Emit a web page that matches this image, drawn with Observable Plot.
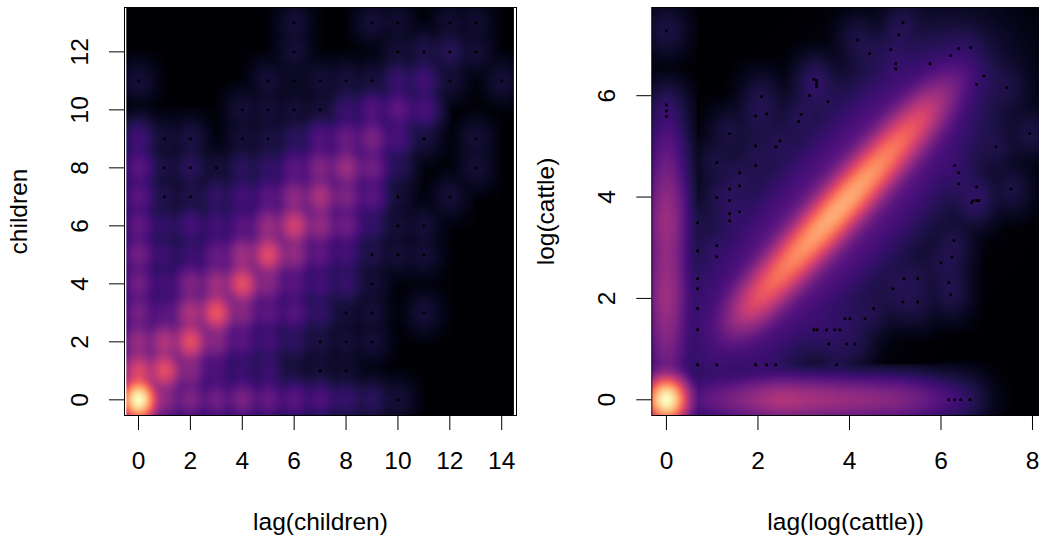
<!DOCTYPE html>
<html><head><meta charset="utf-8">
<script src="https://cdn.jsdelivr.net/npm/d3@7"></script>
<script src="https://cdn.jsdelivr.net/npm/@observablehq/plot@0.6"></script>
<style>
html,body{margin:0;padding:0;background:#fff;overflow:hidden}
#wrap{position:relative;width:1039px;height:542px}
#wrap svg{position:absolute;top:0}
</style></head><body><div id="wrap"></div>
<script>
// Left panel: colour level (0-100) at each lattice cell; rows children = 0..13, columns lag = 0..14
const childrenLevels = [
 [100,40,36,33,35,30,27,24,19,16,10,0,0,0,0],
 [58,61,38,24,20,20,11,10,9,0,0,0,0,0,0],
 [42,48,61,38,27,22,17,12,10,10,0,0,0,0,0],
 [34,27,47,63,38,28,26,18,10,10,0,10,0,0,0],
 [33,22,36,44,61,38,27,22,19,10,0,0,0,0,0],
 [33,20,20,30,44,60,41,28,22,13,10,10,0,0,0],
 [29,18,22,22,27,42,56,41,32,18,10,10,0,0,0],
 [27,13,13,18,22,27,40,47,36,27,10,0,10,0,0],
 [27,12,16,10,16,18,27,37,43,33,15,0,0,10,0],
 [21,10,12,0,10,12,16,25,31,35,23,11,0,10,0],
 [0,0,0,0,10,10,10,10,19,25,28,23,0,0,0],
 [10,0,0,0,0,10,7,10,11,11,19,21,10,0,10],
 [0,0,0,0,0,0,10,0,0,0,10,13,15,10,0],
 [0,0,0,0,0,0,10,0,0,10,9,0,9,9,0]
];
const childrenDotsX = [6,9,10,12,13,6,10,11,12,13,0,5,6,7,8,9,12,14,4,5,6,7,1,2,4,5,11,13,1,2,3,13,1,2,10,12,10,11,9,10,11,9,8,9,11,7,8,9,7,8,10];
const childrenDotsY = [13,13,13,13,13,12,12,12,12,12,11,11,11,11,11,11,11,11,10,10,10,10,9,9,9,9,9,9,8,8,8,8,7,7,7,7,6,6,5,5,5,4,3,3,3,2,2,2,1,1,0];

// Right panel: sparse points
const cattleDotsX = [0,5.17,5.08,4.18,4.44,4.9,5.01,5.01,5.76,6.21,6.39,6.65,6.94,6.78,7.44,3.22,3.28,3.28,3.28,3.13,3.53,2.08,0,0,0,1.95,2.19,2.94,2.89,1.38,7.94,2.48,2.39,1.95,7.2,1.1,1.95,6.3,6.39,1.6,6.39,1.6,1.38,6.78,7.53,1.1,1.38,6.7,6.78,6.83,6.67,1.6,1.38,1.38,0.68,6.28,1.1,0.68,1.1,6.24,6,0.68,5.19,5.49,6.17,0.68,4.95,6.21,5.17,5.49,0.68,4.53,3.9,4.01,4.34,0.68,3.22,3.29,3.5,3.68,3.79,3.55,3.94,4.12,0.68,1.1,1.95,2.19,2.39,3.72,6.17,6.3,6.43,6.63];
const cattleDotsY = [7.28,7.44,7.2,7.1,6.83,6.91,6.63,6.53,6.63,6.79,6.93,6.95,6.39,6.22,6.16,6.32,6.3,6.24,6.18,6,5.88,5.98,5.82,5.7,5.59,5.6,5.64,5.63,5.49,5.25,5.25,5.11,4.99,5.01,4.99,4.68,4.62,4.62,4.48,4.48,4.26,4.22,4.16,4.2,4.16,3.99,3.93,3.93,3.93,3.93,3.89,3.71,3.67,3.53,3.49,3.14,3.04,2.94,2.82,2.82,2.7,2.39,2.39,2.39,2.31,2.19,2.19,2.07,1.93,1.93,1.8,1.8,1.6,1.6,1.6,1.38,1.38,1.38,1.38,1.38,1.38,1.1,1.1,1.1,0.69,0.69,0.69,0.69,0.69,0.69,0,0,0,0];
// Diagonal ridge: position along x=y, narrow core level, wide halo level (0-100)
const ridgeS = [1,1.5,2,2.5,3,3.5,4,4.5,5,5.5,6,6.5];
const ridgeCore = [0,15,62,70,77,82,82,77,70,60,35,0];
const ridgeWide = [20,25,29,31,33,33,33,33,31,29,23,12];
// Axis strips: level (0-100) along x=0 and along y=0
const stripY = [0.5,1,1.5,2,2.5,3,3.5,4,4.5,5,5.5];
const stripYLevel = [28,35,40,45,42,40,45,40,33,27,18];
const stripX = [0.7,1,1.5,2,2.5,3,3.5,4,4.5,5,5.5,6,6.5];
const stripXLevel = [22,28,35,42,50,46,44,42,40,38,32,24,10];
const cornerLevel = 100, singleLevel = 12;

const TAU = 3.4;
const lv = t => Math.pow(t / 100, 4);
const kern = (dx, dy, sx, sy) => (Math.abs(dx) > TAU * sx || Math.abs(dy) > TAU * sy) ? 0 :
  Math.exp(-dx * dx / (2 * sx * sx) - dy * dy / (2 * sy * sy));
const toLevel = D => Math.min(1, Math.pow(D, 0.25));

function leftField(x, y) {
  let D = 0;
  for (let j = 0; j < childrenLevels.length; ++j) {
    if (Math.abs(y - j) > 1.2) continue;
    for (let i = 0; i < 15; ++i) {
      const v = childrenLevels[j][i];
      if (v) D += lv(v) * kern(x - i, y - j, 0.3, 0.32);
    }
  }
  return toLevel(D);
}
function rightField(x, y) {
  let D = lv(cornerLevel) * kern(x, y, 0.2, 0.2);
  const s = (x + y) / 2, d = y - x;
  ridgeS.forEach((r, i) => {
    const e = s - r;
    D += lv(ridgeCore[i]) / 1.5 * Math.exp(-e * e / (2 * 0.09) - d * d / (2 * 0.32 * 0.32));
    D += lv(ridgeWide[i]) / 2 * Math.exp(-e * e / (2 * 0.16) - d * d / (2 * 0.85 * 0.85));
  });
  stripY.forEach((r, i) => { D += lv(stripYLevel[i]) / 1.5 * kern(x, y - r, 0.2, 0.3); });
  stripX.forEach((r, i) => { D += lv(stripXLevel[i]) / 1.5 * kern(x - r, y, 0.3, 0.2); });
  const w = lv(singleLevel);
  for (let i = 0; i < cattleDotsX.length; ++i) D += w * kern(x - cattleDotsX[i], y - cattleDotsY[i], 0.2, 0.22);
  return toLevel(D);
}

const font = {fontFamily: "'Liberation Sans', Arial, sans-serif", fontSize: "24.5px", background: "transparent"};
const colorOpt = {type: "linear", domain: [0, 1], scheme: "magma"};

function panel({width, marginLeft, marginRight, xDomain, yDomain, rx, ry, field, dx, dy, xTicks, yTicks, xLabel, yLabel, left, yLabelOffset}) {
  const svg = Plot.plot({
    width, height: 542, marginLeft, marginRight, marginTop: 7, marginBottom: 127,
    x: {domain: xDomain}, y: {domain: yDomain}, color: colorOpt, style: font,
    marks: [
      Plot.raster({x1: rx[0], x2: rx[1], y1: ry[0], y2: ry[1], pixelSize: 3, fill: field, clip: true}),
      Plot.dot(dx.map((v, i) => ({x: v, y: dy[i]})), {x: "x", y: "y", symbol: "square", r: 1.5, fill: "black", stroke: "none"}),
      Plot.frame({stroke: "black", strokeOpacity: 1}),
      Plot.axisX({ticks: xTicks, tickSize: 15, tickPadding: 21, tickFormat: d3.format("d"), label: xLabel, labelAnchor: "center", labelArrow: "none", labelOffset: 114, strokeOpacity: 1, color: "black"}),
      Plot.axisY({ticks: yTicks, tickSize: 15, tickPadding: 22, tickRotate: -90, tickFormat: d3.format("d"), label: yLabel, labelAnchor: "center", labelArrow: "none", labelOffset: yLabelOffset, strokeOpacity: 1, color: "black"})
    ]
  });
  svg.style.left = left + "px";
  document.getElementById("wrap").appendChild(svg);
}

panel({width: 520, marginLeft: 124, marginRight: 4, xDomain: [-0.54, 14.57], yDomain: [-0.54, 13.53],
  rx: [-0.47, 14.47], ry: [-0.54, 13.53], field: leftField, dx: childrenDotsX, dy: childrenDotsY,
  xTicks: d3.range(0, 15, 2), yTicks: d3.range(0, 13, 2), xLabel: "lag(children)", yLabel: "children", left: 0, yLabelOffset: 115});
panel({width: 519, marginLeft: 131.3, marginRight: 0, xDomain: [-0.32, 8.153], yDomain: [-0.31, 7.74],
  rx: [-0.32, 8.153], ry: [-0.31, 7.74], field: rightField, dx: cattleDotsX, dy: cattleDotsY,
  xTicks: d3.range(0, 9, 2), yTicks: d3.range(0, 7, 2), xLabel: "lag(log(cattle))", yLabel: "log(cattle)", left: 520, yLabelOffset: 115});
</script></body></html>
